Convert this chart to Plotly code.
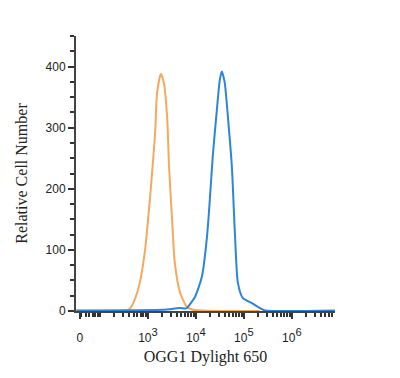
import plotly.graph_objects as go

# Intensity (fluorescence) and counts
orange_x = [237, 363, 422, 537, 676, 871, 1096, 1202, 1413, 1549, 1862, 2138, 2512, 2754, 3162, 3631, 4677, 6457, 8710, 213800]
orange_y = [0, 1, 4, 20, 46, 100, 182, 220, 292, 357, 388, 374, 318, 236, 154, 79, 30, 7, 2, 0]

blue_x = [32, 2040, 3630, 4680, 5900, 6460, 9550, 13300, 17000, 19500, 22400, 27400, 31600, 34700, 39800, 46400, 56200, 64900, 75000, 95500, 147000, 214000, 274000, 7900000]
blue_y = [1, 2, 4, 5, 4, 5, 23, 56, 121, 182, 252, 330, 379, 392, 374, 318, 236, 128, 46, 21, 13, 5, 1, 1]

x_tickvals = [38, 1e3, 1e4, 1e5, 1e6]
sup = "<span style='font-size:16px'><sup>{}</sup></span>"
x_ticktext = ["0", "10" + sup.format(3), "10" + sup.format(4), "10" + sup.format(5), "10" + sup.format(6)]
y_tickvals = [0, 100, 200, 300, 400]

fig = go.Figure()
fig.add_trace(go.Scatter(x=orange_x, y=orange_y, mode="lines", line=dict(color="#F6A95E", width=2, shape="spline", smoothing=0.6)))
fig.add_trace(go.Scatter(x=blue_x, y=blue_y, mode="lines", line=dict(color="#2B86DB", width=2, shape="spline", smoothing=0.6)))

fig.update_layout(
    width=400, height=378,
    margin=dict(l=76, r=65, t=36, b=67),
    plot_bgcolor="white", paper_bgcolor="white",
    showlegend=False,
    font=dict(family="Liberation Sans, Arial", size=12, color="#222"),
)
fig.update_xaxes(
    type="log", range=[1.5, 6.9],
    tickvals=x_tickvals, ticktext=x_ticktext,
    ticks="outside", ticklen=6, tickwidth=1.5, tickcolor="#333",
    minor=dict(ticks="outside", ticklen=4, tickcolor="#333", dtick="D1"),
    showline=True, linecolor="#444", linewidth=2,
    showgrid=False, zeroline=False,
    ticklabelstandoff=9,
    title=dict(text="OGG1 Dylight 650", font=dict(family="Liberation Serif, Times New Roman", size=16, color="#222"), standoff=6),
)
fig.update_yaxes(
    range=[0, 450],
    tickvals=y_tickvals,
    ticks="outside", ticklen=6, tickwidth=1.5, tickcolor="#333",
    minor=dict(ticks="outside", ticklen=4, tickcolor="#333", dtick=25),
    showline=True, linecolor="#444", linewidth=2,
    showgrid=False, zeroline=False,
    title=dict(text="Relative Cell Number", font=dict(family="Liberation Serif, Times New Roman", size=16, color="#222"), standoff=14),
)
fig.write_html("out.html")
